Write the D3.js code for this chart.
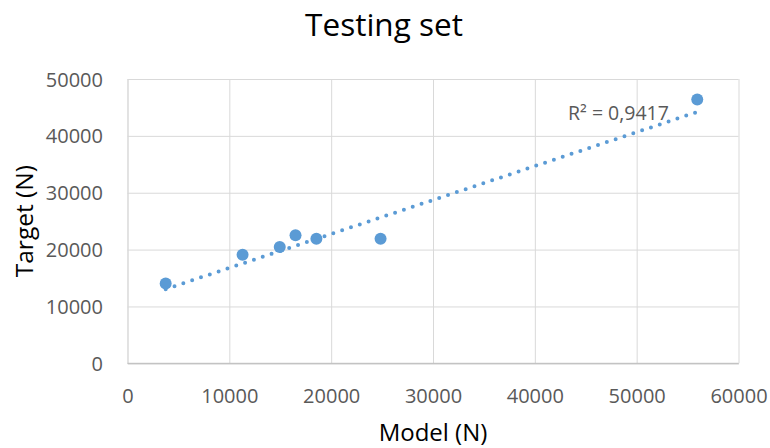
<!DOCTYPE html>
<html>
<head>
<meta charset="utf-8">
<script src="https://cdn.jsdelivr.net/npm/d3@7"></script>
<style>
  html, body { margin: 0; padding: 0; background: #fff; }
  svg { display: block; font-family: "Open Sans", sans-serif; }
</style>
</head>
<body>
<svg id="chart" width="770" height="448"></svg>
<script>
// ---- data ----
const modelValues  = [3750, 11300, 14950, 16500, 18550, 24850, 55950];
const targetValues = [14050, 19100, 20450, 22500, 21900, 21900, 46400];
const xTicks = [0, 10000, 20000, 30000, 40000, 50000, 60000];
const yTicks = [0, 10000, 20000, 30000, 40000, 50000];
const trendCoefficients = [0.597, 10805]; // slope, intercept of the shown linear trendline
const r2Label = "R² = 0,9417";
const titleText = "Testing set";
const xTitle = "Model (N)";
const yTitle = "Target (N)";

const W = 770, H = 448;
const margin = { left: 127.5, right: 31.5, top: 79, bottom: 84.7 };
const pw = W - margin.left - margin.right;
const ph = H - margin.top - margin.bottom;

const svg = d3.select("#chart");
const g = svg.append("g").attr("transform", `translate(${margin.left},${margin.top})`);

const x = d3.scaleLinear().domain([0, 60000]).range([0, pw]);
const y = d3.scaleLinear().domain([0, 50000]).range([ph, 0]);

const gridColor = "#D9D9D9";
const tickColor = "#595959";
const blue = "#5B9BD5";

// vertical gridlines
const xAxis = g.append("g").attr("transform", `translate(0,${ph})`)
  .call(d3.axisBottom(x).tickValues(xTicks).tickSize(-ph).tickSizeOuter(0).tickPadding(0).tickFormat(d3.format("d")));
xAxis.select(".domain").attr("stroke", "#BFBFBF").attr("stroke-width", 1);
xAxis.selectAll(".tick line").attr("stroke", gridColor).attr("stroke-width", 1);
xAxis.selectAll(".tick text")
  .attr("fill", tickColor).attr("font-size", 20).attr("font-family", "Open Sans")
  .attr("y", 0).attr("dy", 39.7);

// horizontal gridlines
const yAxis = g.append("g")
  .call(d3.axisLeft(y).tickValues(yTicks).tickSize(-pw).tickSizeOuter(0).tickPadding(0).tickFormat(d3.format("d")));
yAxis.select(".domain").attr("stroke", gridColor).attr("stroke-width", 1);
yAxis.selectAll(".tick line").attr("stroke", gridColor).attr("stroke-width", 1);
yAxis.selectAll(".tick text")
  .attr("fill", tickColor).attr("font-size", 20).attr("font-family", "Open Sans")
  .attr("x", -24.5).attr("dy", "0.35em");

// re-draw the x axis baseline on top of the gridlines
g.append("line")
  .attr("x1", 0).attr("x2", pw).attr("y1", ph).attr("y2", ph)
  .attr("stroke", "#BFBFBF").attr("stroke-width", 1);

// trendline
const xMin = d3.min(modelValues), xMax = d3.max(modelValues);
const trend = [xMin, xMax].map(v => [v, trendCoefficients[0] * v + trendCoefficients[1]]);
g.append("path")
  .attr("d", d3.line().x(d => x(d[0])).y(d => y(d[1]))(trend))
  .attr("fill", "none")
  .attr("stroke", blue)
  .attr("stroke-width", 4)
  .attr("stroke-linecap", "round")
  .attr("stroke-dasharray", "0 9.3");

// points
g.selectAll("circle.pt")
  .data(modelValues.map((m, i) => [m, targetValues[i]]))
  .join("circle")
  .attr("class", "pt")
  .attr("cx", d => x(d[0]))
  .attr("cy", d => y(d[1]))
  .attr("r", 6)
  .attr("fill", blue);

// R² label
svg.append("text")
  .attr("x", 568).attr("y", 119.5)
  .attr("fill", tickColor).attr("font-size", 19.5)
  .text(r2Label);

// title
svg.append("text")
  .attr("x", 384).attr("y", 36)
  .attr("text-anchor", "middle")
  .attr("fill", "#000").attr("font-size", 31.5)
  .text(titleText);

// axis titles
svg.append("text")
  .attr("x", margin.left + pw / 2).attr("y", 440.5)
  .attr("text-anchor", "middle")
  .attr("fill", "#000").attr("font-size", 24)
  .text(xTitle);

svg.append("text")
  .attr("transform", `translate(33,${margin.top + ph / 2}) rotate(-90)`)
  .attr("text-anchor", "middle")
  .attr("fill", "#000").attr("font-size", 24.5)
  .text(yTitle);
</script>
</body>
</html>
